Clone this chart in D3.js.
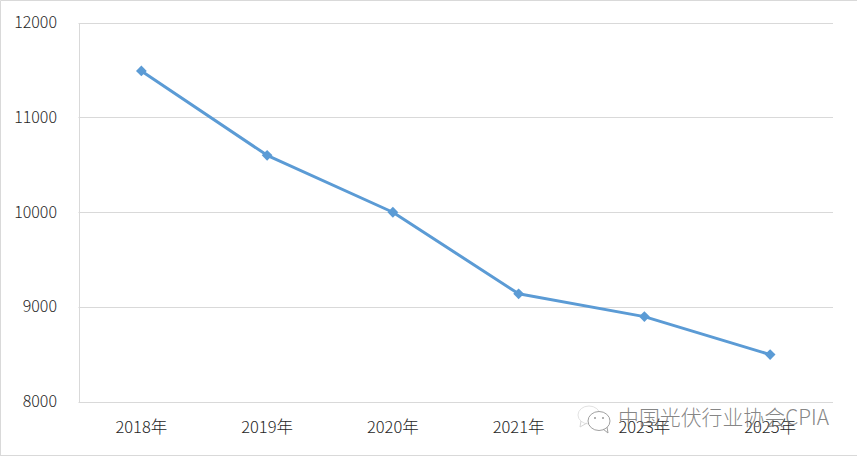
<!DOCTYPE html>
<html>
<head>
<meta charset="utf-8">
<script src="https://d3js.org/d3.v7.min.js"></script>
<style>
  body { margin: 0; background: #fff; }
  svg { display: block; }
  svg text { font-family: "Noto Sans CJK SC", "Noto Sans", sans-serif; font-weight: 300; }
  .tick text { fill: #262626; font-size: 16px; }
  .x-axis .tick text { font-size: 16.5px; }
</style>
</head>
<body>
<div id="viz"></div>
<script>
const years = ["2018年", "2019年", "2020年", "2021年", "2023年", "2025年"];
const values = [11490, 10600, 10000, 9140, 8900, 8500];
const yTicks = [8000, 9000, 10000, 11000, 12000];

const width = 857, height = 456;
const margin = {top: 22.5, right: 24, bottom: 54, left: 78.5};

const svg = d3.select("#viz").append("svg")
  .attr("width", width)
  .attr("height", height);

// image frame
svg.append("path")
  .attr("d", `M0.5,${height}V0.5H${width}M0,${height - 0.5}H${width}`)
  .attr("fill", "none")
  .attr("stroke", "#d9d9d9");

const x = d3.scaleBand()
  .domain(years)
  .range([margin.left, width - margin.right]);

const y = d3.scaleLinear()
  .domain([8000, 12000])
  .range([height - margin.bottom, margin.top]);

// gridlines
svg.append("g")
  .selectAll("line")
  .data(yTicks)
  .join("line")
    .attr("x1", margin.left)
    .attr("x2", width - margin.right)
    .attr("y1", d => Math.round(y(d)) + 0.5)
    .attr("y2", d => Math.round(y(d)) + 0.5)
    .attr("stroke", "#d9d9d9");

const yAxis = svg.append("g")
  .attr("transform", `translate(${margin.left + 0.5},0)`)
  .call(d3.axisLeft(y).tickValues(yTicks).tickSize(0).tickPadding(22).tickFormat(d3.format("d")));
yAxis.select(".domain").attr("stroke", "#d9d9d9");
yAxis.selectAll("text").attr("dy", "0.3em");

const xAxis = svg.append("g")
  .attr("class", "x-axis")
  .attr("transform", `translate(0,${height - margin.bottom})`)
  .call(d3.axisBottom(x).tickSize(0).tickPadding(19));
xAxis.select(".domain").remove();

// series
const line = d3.line()
  .x((d, i) => x(years[i]) + x.bandwidth() / 2)
  .y(d => y(d));

svg.append("path")
  .datum(values)
  .attr("d", line)
  .attr("fill", "none")
  .attr("stroke", "#5b9bd5")
  .attr("stroke-width", 3)
  .attr("stroke-linejoin", "round");

svg.append("g")
  .selectAll("path")
  .data(values)
  .join("path")
    .attr("d", d3.symbol(d3.symbolSquare, 58))
    .attr("transform", (d, i) => `translate(${x(years[i]) + x.bandwidth() / 2},${y(d)}) rotate(45)`)
    .attr("fill", "#5b9bd5");

// watermark
const mark = svg.append("g").attr("transform", "translate(576,402)");
const bubbles = mark.append("g").attr("fill", "none").attr("stroke-width", 1);
bubbles.append("ellipse").attr("cx", 13).attr("cy", 13).attr("rx", 11).attr("ry", 9).attr("stroke", "#e2e2e2");
bubbles.append("path").attr("d", "M5,19L4,25L11,21").attr("stroke", "#d5d5d5");
bubbles.append("ellipse").attr("cx", 23).attr("cy", 19).attr("rx", 11).attr("ry", 9.5).attr("fill", "#fff").attr("stroke", "#a0a0a0");
bubbles.append("path").attr("d", "M27,27L32,31L31,25").attr("stroke", "#a0a0a0");
bubbles.append("circle").attr("cx", 19).attr("cy", 16).attr("r", 1).attr("fill", "#999").attr("stroke", "none");
bubbles.append("circle").attr("cx", 27).attr("cy", 16).attr("r", 1).attr("fill", "#999").attr("stroke", "none");

svg.append("text")
  .attr("x", 618)
  .attr("y", 425)
  .attr("font-size", 20.9)
  .attr("fill", "#707070")
  .attr("fill-opacity", 0.85)
  .text("中国光伏行业协会CPIA");
</script>
</body>
</html>
